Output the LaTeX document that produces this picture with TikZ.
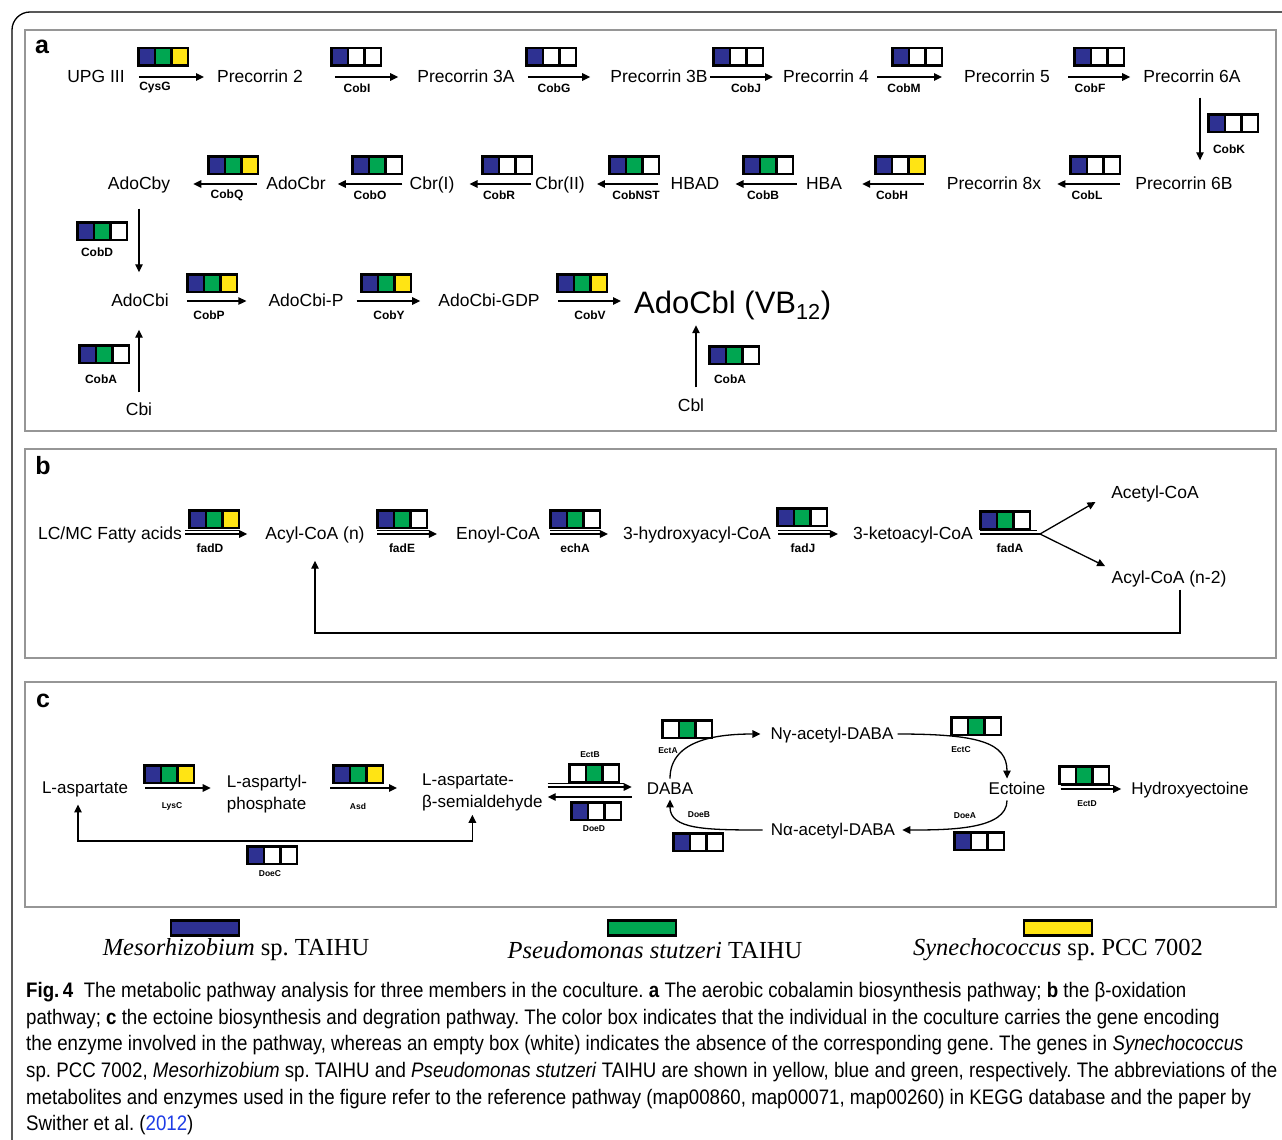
\documentclass[tikz,border=0pt]{standalone}
\usepackage{fontspec}
\setmainfont{Liberation Sans}
\newfontfamily\legfont{Liberation Serif}
\newfontfamily\capfont[FakeStretch=0.89]{Liberation Sans}
\usetikzlibrary{arrows.meta}
\definecolor{gblue}{RGB}{46,49,146}
\definecolor{ggreen}{RGB}{0,166,81}
\definecolor{gyellow}{RGB}{255,228,20}
\definecolor{framegray}{RGB}{150,150,150}
\definecolor{linkblue}{RGB}{30,60,230}
\newcommand\rxn[4]{\draw[arr,shorten <=#3pt,shorten >=#4pt] (#1) -- (#2);}
\newcommand\drxn[4]{\draw[arr,shorten <=#3pt,shorten >=#4pt] (#1) -- (#2);
  \draw[thinl,shorten <=#3pt,shorten >=#4pt+8pt] ([yshift=3.5pt]#1) -- ([yshift=3.5pt]#2);}
\tikzset{
  cell/.style={draw=black,line width=2.5pt,minimum width=16.5pt,minimum height=17.5pt,inner sep=0pt,outer sep=0pt},
  pics/genes/.style n args={3}{code={
    \node[cell,fill=#1] (-a) at (-16.5,0) {};
    \node[cell,fill=#2] (-b) at (0,0) {};
    \node[cell,fill=#3] (-c) at (16.5,0) {};
  }},
  met/.style={inner sep=0pt,font=\fontsize{17.5}{21}\selectfont,text height=14pt,text depth=3pt},
  cmet/.style={inner sep=0pt,font=\fontsize{17}{22}\selectfont,text height=13.5pt,text depth=3pt},
  cmet2/.style={inner sep=0pt,font=\fontsize{17}{22}\selectfont,align=left},
  bigmet/.style={inner sep=0pt,font=\fontsize{31}{36}\selectfont,text height=24pt,text depth=8pt},
  enz/.style={inner sep=0pt,font=\bfseries\fontsize{12}{14}\selectfont},
  enzs/.style={inner sep=0pt,font=\bfseries\fontsize{8.5}{10}\selectfont},
  plabel/.style={inner sep=0pt,font=\bfseries\fontsize{25}{28}\selectfont},
  arr/.style={line width=1.3pt,-{Triangle[length=8pt,width=7.5pt]}},
  arrboth/.style={line width=1.3pt,{Triangle[length=8pt,width=7.5pt]}-{Triangle[length=8pt,width=7.5pt]}},
  thinl/.style={line width=0.9pt},
  panel/.style={draw=framegray,line width=2.5pt},
  legbox/.style={draw=black,line width=2.6pt,minimum width=68pt,minimum height=15pt,inner sep=0pt},
  legt/.style={inner sep=0pt,font=\legfont\fontsize{24.5}{28}\selectfont},
}
\begin{document}
\frenchspacing
\begin{tikzpicture}[x=1pt,y=-1pt]
\fill[white] (0,0) rectangle (1282,1140);
\useasboundingbox (0,0) rectangle (1282,1140);
\draw[line width=1.3pt,rounded corners=18pt] (12,1140) -- (12,12) -- (1282,12);
\draw[panel] (25,30) rectangle (1276,431);
\draw[panel] (25,449) rectangle (1276,658);
\draw[panel] (25,682) rectangle (1276,907);

% ---------------- panel a ----------------
\node[plabel] (la) at (42,47) {a};
\node[met] (upg) at (96,77) {UPG III};
\node[met] (p2) at (260,77) {Precorrin 2};
\node[met] (p3a) at (466,77) {Precorrin 3A};
\node[met] (p3b) at (659,77) {Precorrin 3B};
\node[met] (p4) at (826,77) {Precorrin 4};
\node[met] (p5) at (1007,77) {Precorrin 5};
\node[met] (p6a) at (1192,77) {Precorrin 6A};
\rxn{upg.east}{p2.west}{14}{13}
\rxn{p2.east}{p3a.west}{32}{19}
\rxn{p3a.east}{p3b.west}{13}{20}
\rxn{p3b.east}{p4.west}{2}{10}
\rxn{p4.east}{p5.west}{8}{22}
\rxn{p5.east}{p6a.west}{18}{13}
\pic (gCysG) at (163,57) {genes={gblue}{ggreen}{gyellow}};
\pic (gCobI) at (356,57) {genes={gblue}{white}{white}};
\pic (gCobG) at (551,57) {genes={gblue}{white}{white}};
\pic (gCobJ) at (738,57) {genes={gblue}{white}{white}};
\pic (gCobM) at (917,57) {genes={gblue}{white}{white}};
\pic (gCobF) at (1099,57) {genes={gblue}{white}{white}};
\node[enz] (eCysG) at (155,88) {CysG};
\node[enz] (eCobI) at (357,88) {CobI};
\node[enz] (eCobG) at (554,88) {CobG};
\node[enz] (eCobJ) at (746,88) {CobJ};
\node[enz] (eCobM) at (904,88) {CobM};
\node[enz] (eCobF) at (1090,88) {CobF};

\node[met] (p6b) at (1184,184) {Precorrin 6B};
\node[met] (p8x) at (994,184) {Precorrin 8x};
\node[met] (hba) at (824,184) {HBA};
\node[met] (hbad) at (695,184) {HBAD};
\node[met] (cbr2) at (560,184) {Cbr(II)};
\node[met] (cbr1) at (432,184) {Cbr(I)};
\node[met] (adocbr) at (296,184) {AdoCbr};
\node[met] (adocby) at (139,184) {AdoCby};
\draw[arr,shorten <=12pt,shorten >=15pt] ([xshift=8pt]p6a.south) -- ([xshift=8pt]p6a.south |- p6b.north);
\pic (gCobK) at (1233,123) {genes={gblue}{white}{white}};
\node[enz] (eCobK) at (1229,149) {CobK};
\rxn{p6b.west}{p8x.east}{15}{16}
\rxn{p8x.west}{hba.east}{23}{20}
\rxn{hba.west}{hbad.east}{9}{16}
\rxn{hbad.west}{cbr2.east}{12}{12}
\rxn{cbr2.west}{cbr1.east}{4}{15}
\rxn{cbr1.west}{adocbr.east}{7}{12}
\rxn{adocbr.west}{adocby.east}{9}{23}
\pic (gCobL) at (1095,165) {genes={gblue}{white}{white}};
\pic (gCobH) at (900,165) {genes={gblue}{white}{gyellow}};
\pic (gCobB) at (768,165) {genes={gblue}{ggreen}{white}};
\pic (gCobNST) at (634,165) {genes={gblue}{ggreen}{white}};
\pic (gCobR) at (507,165) {genes={gblue}{white}{white}};
\pic (gCobO) at (377,165) {genes={gblue}{ggreen}{white}};
\pic (gCobQ) at (233,165) {genes={gblue}{ggreen}{gyellow}};
\node[enz] (eCobL) at (1087,195) {CobL};
\node[enz] (eCobH) at (892,195) {CobH};
\node[enz] (eCobB) at (763,195) {CobB};
\node[enz] (eCobNST) at (636,195) {CobNST};
\node[enz] (eCobR) at (499,195) {CobR};
\node[enz] (eCobO) at (370,195) {CobO};
\node[enz] (eCobQ) at (227,195) {CobQ};

\node[met] (adocbi) at (140,301) {AdoCbi};
\node[met] (adocbip) at (306,301) {AdoCbi-P};
\node[met] (adocbigdp) at (489,301) {AdoCbi-GDP};
\node[bigmet,anchor=base west] (adocbl) at (634,313) {AdoCbl (VB\textsubscript{12})};
\draw[arr,shorten <=16pt,shorten >=20pt] (adocby.south) -- (adocby.south |- adocbi.north);
\pic (gCobD) at (102,231) {genes={gblue}{ggreen}{white}};
\node[enz] (eCobD) at (97,252) {CobD};
\rxn{adocbi.east}{adocbip.west}{18}{22}
\rxn{adocbip.east}{adocbigdp.west}{13}{18}
\rxn{adocbigdp.east}{adocbigdp.east -| adocbl.west}{18}{13}
\pic (gCobP) at (212,283) {genes={gblue}{ggreen}{gyellow}};
\pic (gCobY) at (386,283) {genes={gblue}{ggreen}{gyellow}};
\pic (gCobV) at (582,283) {genes={gblue}{ggreen}{gyellow}};
\node[enz] (eCobP) at (209,315) {CobP};
\node[enz] (eCobY) at (389,315) {CobY};
\node[enz] (eCobV) at (590,315) {CobV};
\node[met] (cbi) at (139,410) {Cbi};
\draw[arr,shorten <=9pt,shorten >=20pt] (cbi.north) -- (cbi.north |- adocbi.south);
\pic (gCobA1) at (104,354) {genes={gblue}{ggreen}{white}};
\node[enz] (eCobA1) at (101,379) {CobA};
\node[met] (cbl) at (691,406) {Cbl};
\draw[arr,shorten <=10pt,shorten >=4pt] ([xshift=5pt]cbl.north) -- ([xshift=5pt]cbl.north |- adocbl.south);
\pic (gCobA2) at (734,355) {genes={gblue}{ggreen}{white}};
\node[enz] (eCobA2) at (730,379) {CobA};

% ---------------- panel b ----------------
\node[plabel] (lb) at (43,466) {b};
\node[met] (lcmc) at (110,534) {LC/MC Fatty acids};
\node[met] (acyl) at (315,534) {Acyl-CoA (n)};
\node[met] (enoyl) at (498,534) {Enoyl-CoA};
\node[met] (hyd) at (697,534) {3-hydroxyacyl-CoA};
\node[met] (keto) at (913,534) {3-ketoacyl-CoA};
\node[met] (acetyl) at (1155,493) {Acetyl-CoA};
\node[met] (acyln2) at (1169,578) {Acyl-CoA (n-2)};
\drxn{lcmc.east}{acyl.west}{3}{18}
\drxn{acyl.east}{enoyl.west}{12}{19}
\drxn{enoyl.east}{hyd.west}{10}{15}
\drxn{hyd.east}{keto.west}{7}{15}
\coordinate (fork) at (1040,534);
\draw[line width=1.3pt,shorten <=7pt] (keto.east) -- (fork);
\draw[thinl,shorten <=7pt,shorten >=3pt] ([yshift=3.5pt]keto.east) -- ([yshift=3.5pt]fork);
\draw[arr,shorten >=18pt] (fork) -- (acetyl.west);
\draw[arr,shorten >=7pt] (fork) -- (acyln2.north west);
\coordinate (bbot) at (700,633);
\draw[arr,shorten <=3pt,shorten >=18pt] ([xshift=11pt]acyln2.south) |- (bbot) -| (acyl.south);
\pic (gfadD) at (214,519) {genes={gblue}{ggreen}{gyellow}};
\pic (gfadE) at (402,519) {genes={gblue}{ggreen}{white}};
\pic (gechA) at (575,519) {genes={gblue}{ggreen}{white}};
\pic (gfadJ) at (802,517) {genes={gblue}{ggreen}{white}};
\pic (gfadA) at (1005,520) {genes={gblue}{ggreen}{white}};
\node[enz] (efadD) at (210,548) {fadD};
\node[enz] (efadE) at (402,548) {fadE};
\node[enz] (eechA) at (575,548) {echA};
\node[enz] (efadJ) at (803,548) {fadJ};
\node[enz] (efadA) at (1010,548) {fadA};

% ---------------- panel c ----------------
\node[plabel] (lc) at (43,701) {c};
\node[cmet] (lasp) at (85,788) {L-aspartate};
\node[cmet2] (laspp) at (267,794) {L-aspartyl-\\phosphate};
\node[cmet2,anchor=west] (lasa) at (422,792) {L-aspartate-\\β-semialdehyde};
\node[cmet] (daba) at (670,789) {DABA};
\node[cmet] (ngam) at (832,734) {Nγ-acetyl-DABA};
\node[cmet] (ecto) at (1017,789) {Ectoine};
\node[cmet] (nalp) at (833,830) {Nα-acetyl-DABA};
\node[cmet] (hydroxy) at (1190,789) {Hydroxyectoine};
\rxn{lasp.east}{lasp.east -| laspp.west}{17}{16}
\rxn{lasp.east -| laspp.east}{lasp.east -| lasa.west}{23}{25}
\draw[arr,shorten <=5pt,shorten >=15pt] ([yshift=5pt]lasa.east) -- ([yshift=5pt]lasa.east -| daba.west);
\draw[thinl,shorten <=5pt,shorten >=23pt] ([yshift=8.5pt]lasa.east) -- ([yshift=8.5pt]lasa.east -| daba.west);
\draw[arr,shorten <=15pt,shorten >=5pt] ([yshift=-5pt]lasa.east -| daba.west) -- ([yshift=-5pt]lasa.east);
\draw[arr,shorten <=2pt,shorten >=10pt] (daba.north) .. controls +(0,-42) and +(-50,0) .. (ngam.west);
\draw[arr,shorten <=4pt,shorten >=2pt] (ngam.east) .. controls +(85,0) and +(0,-38) .. ([xshift=-10pt]ecto.north);
\draw[arr,shorten <=3pt,shorten >=7pt] ([xshift=-10pt]ecto.south) .. controls +(0,32) and +(55,0) .. (nalp.east);
\draw[arr,shorten <=8pt,shorten >=2pt] (nalp.west) .. controls +(-65,0) and +(0,32) .. (daba.south);
\drxn{ecto.east}{hydroxy.west}{15}{10}
\coordinate (cbot) at (270,841);
\draw[arrboth,shorten <=8pt,shorten >=4pt] ([xshift=-7pt]lasp.south) |- (cbot) -| ([xshift=-10pt]lasa.south);
\pic (gLysC) at (169,774) {genes={gblue}{ggreen}{gyellow}};
\pic (gAsd) at (358,774) {genes={gblue}{ggreen}{gyellow}};
\pic (gEctB) at (594,773) {genes={white}{ggreen}{white}};
\pic (gDoeD) at (596,811) {genes={gblue}{white}{white}};
\pic (gEctA) at (687,729) {genes={white}{ggreen}{white}};
\pic (gEctC) at (976,726) {genes={white}{ggreen}{white}};
\pic (gDoeA) at (979,841) {genes={gblue}{white}{white}};
\pic (gDoeB) at (698,842) {genes={gblue}{white}{white}};
\pic (gEctD) at (1084,775) {genes={white}{ggreen}{white}};
\pic (gDoeC) at (272,855) {genes={gblue}{white}{white}};
\node[enzs] (eLysC) at (172,806) {LysC};
\node[enzs] (eAsd) at (358,806) {Asd};
\node[enzs] (eEctB) at (590,755) {EctB};
\node[enzs] (eDoeD) at (594,829) {DoeD};
\node[enzs] (eEctA) at (668,751) {EctA};
\node[enzs] (eEctC) at (961,750) {EctC};
\node[enzs] (eDoeA) at (965,816) {DoeA};
\node[enzs] (eDoeB) at (699,815) {DoeB};
\node[enzs] (eEctD) at (1087,804) {EctD};
\node[enzs] (eDoeC) at (270,874) {DoeC};

% ---------------- legend ----------------
\node[legbox,fill=gblue] (lg1) at (205,928) {};
\node[legbox,fill=ggreen] (lg2) at (642,928) {};
\node[legbox,fill=gyellow] (lg3) at (1058,928) {};
\node[legt] (lt1) at (236,950) {\textit{Mesorhizobium} sp. TAIHU};
\node[legt] (lt2) at (655,950) {\textit{Pseudomonas stutzeri} TAIHU};
\node[legt] (lt3) at (1058,950) {\textit{Synechococcus} sp. PCC 7002};

% ---------------- caption ----------------
\node[anchor=north west,inner sep=0pt,align=left,font=\capfont\fontsize{21}{26.7}\selectfont] (cap) at (26,982) {%
{\bfseries Fig.\,4}\hspace{0.5em}The metabolic pathway analysis for three members in the coculture. {\bfseries a} The aerobic cobalamin biosynthesis pathway; {\bfseries b} the β-oxidation\\
pathway; {\bfseries c} the ectoine biosynthesis and degration pathway. The color box indicates that the individual in the coculture carries the gene encoding\\
the enzyme involved in the pathway, whereas an empty box (white) indicates the absence of the corresponding gene. The genes in \textit{Synechococcus}\\
sp. PCC 7002, \textit{Mesorhizobium} sp. TAIHU and \textit{Pseudomonas stutzeri} TAIHU are shown in yellow, blue and green, respectively. The abbreviations of the\\
metabolites and enzymes used in the figure refer to the reference pathway (map00860, map00071, map00260) in KEGG database and the paper by\\
Swither et al. ({\color{linkblue}2012})};
\end{tikzpicture}
\end{document}
